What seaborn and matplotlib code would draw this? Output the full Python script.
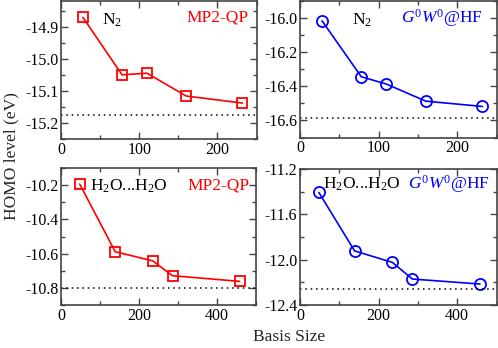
import matplotlib
matplotlib.use("Agg")
import matplotlib.pyplot as plt
import seaborn as sns
from matplotlib.ticker import MultipleLocator

# --- podaci ---
n2_basis = [28, 78, 110, 160, 232]
n2_mp2 = [-14.871, -15.050, -15.045, -15.116, -15.138]
n2_gw = [-16.016, -16.344, -16.387, -16.487, -16.518]
n2_mp2_ref = -15.174
n2_gw_ref = -16.586

w2_basis = [48, 139, 235, 286, 458]
w2_mp2 = [-10.194, -10.589, -10.642, -10.729, -10.762]
w2_gw = [-11.407, -11.923, -12.024, -12.171, -12.215]
w2_mp2_ref = -10.798
w2_gw_ref = -12.260

sns.set_theme(style="ticks")
plt.rcParams["font.family"] = ["Liberation Serif", "DejaVu Serif"]
plt.rcParams["mathtext.fontset"] = "custom"
plt.rcParams["mathtext.rm"] = "Liberation Serif"
plt.rcParams["mathtext.it"] = "Liberation Serif:italic"
plt.rcParams["axes.unicode_minus"] = False

W, H = 498, 348
fig = plt.figure(figsize=(W / 100, H / 100), dpi=100)


def make_ax(l, r, t, b):
    return fig.add_axes([l / W, 1 - b / H, (r - l) / W, (b - t) / H])


panels = [
    # (granice u px, x, y, ref, boja, marker, xlim, ylim, xmaj, ymaj, molekul, metoda, pozicije teksta)
    ((61, 256.5, 1, 139), n2_basis, n2_mp2, n2_mp2_ref, "red", "s",
     (0, 250), (-15.25, -14.82), 100, 0.1, "N$_2$", "MP2-QP", (102, 20), (249, 18)),
    ((300, 496.5, 1, 137.5), n2_basis, n2_gw, n2_gw_ref, "blue", "o",
     (0, 250), (-16.7, -15.9), 100, 0.2, "N$_2$", "$G^0W^0$@HF", (352, 20), (483, 18)),
    ((61, 256, 168, 305), w2_basis, w2_mp2, w2_mp2_ref, "red", "s",
     (0, 500), (-10.9, -10.1), 200, 0.2, "H$_2$O...H$_2$O", "MP2-QP", (90, 186), (250, 186)),
    ((300, 496.5, 169, 305), w2_basis, w2_gw, w2_gw_ref, "blue", "o",
     (0, 500), (-12.4, -11.2), 200, 0.4, "H$_2$O...H$_2$O", "$G^0W^0$@HF", (323, 184), (490, 184)),
]

for (box, xs, ys, ref, col, mk, xl, yl, xmaj, ymaj, mol, meth, pmol, pmeth) in panels:
    ax = make_ax(*box)
    sns.lineplot(x=xs, y=ys, ax=ax, color=col, lw=1.2, marker=mk,
                 markersize=7 if mk == "s" else 8, markerfacecolor="none",
                 markeredgecolor=col, markeredgewidth=1.3)
    ax.axhline(ref, color="black", ls=(0, (1, 2.5)), lw=1.1)
    ax.set_xlim(*xl)
    ax.set_ylim(*yl)
    ax.xaxis.set_major_locator(MultipleLocator(xmaj))
    ax.xaxis.set_minor_locator(MultipleLocator(xmaj / 2))
    ax.yaxis.set_major_locator(MultipleLocator(ymaj))
    ax.yaxis.set_minor_locator(MultipleLocator(ymaj / 2))
    ax.yaxis.set_major_formatter(plt.FormatStrFormatter("%.1f"))
    ax.tick_params(which="both", direction="in", top=True, right=True,
                   colors="#444444", labelcolor="black", labelsize=11.5, pad=2)
    ax.tick_params(which="major", length=5, width=1)
    ax.tick_params(which="minor", length=3, width=1)
    for s in ax.spines.values():
        s.set_color("#444444")
        s.set_linewidth(1.2)
    ax.set_xlabel("")
    ax.set_ylabel("")
    fig.text(pmol[0] / W, 1 - pmol[1] / H, mol, fontsize=12.5,
             ha="left", va="center", color="black")
    fig.text(pmeth[0] / W, 1 - pmeth[1] / H, meth, fontsize=12.5,
             ha="right", va="center", color=col)

fig.text(11 / W, 1 - 156 / H, "HOMO level (eV)", rotation=90,
         ha="center", va="center", fontsize=12.5)
fig.text(289 / W, 1 - 337 / H, "Basis Size", ha="center", va="center",
         fontsize=12.5)

fig.savefig("out.png", dpi=100)
